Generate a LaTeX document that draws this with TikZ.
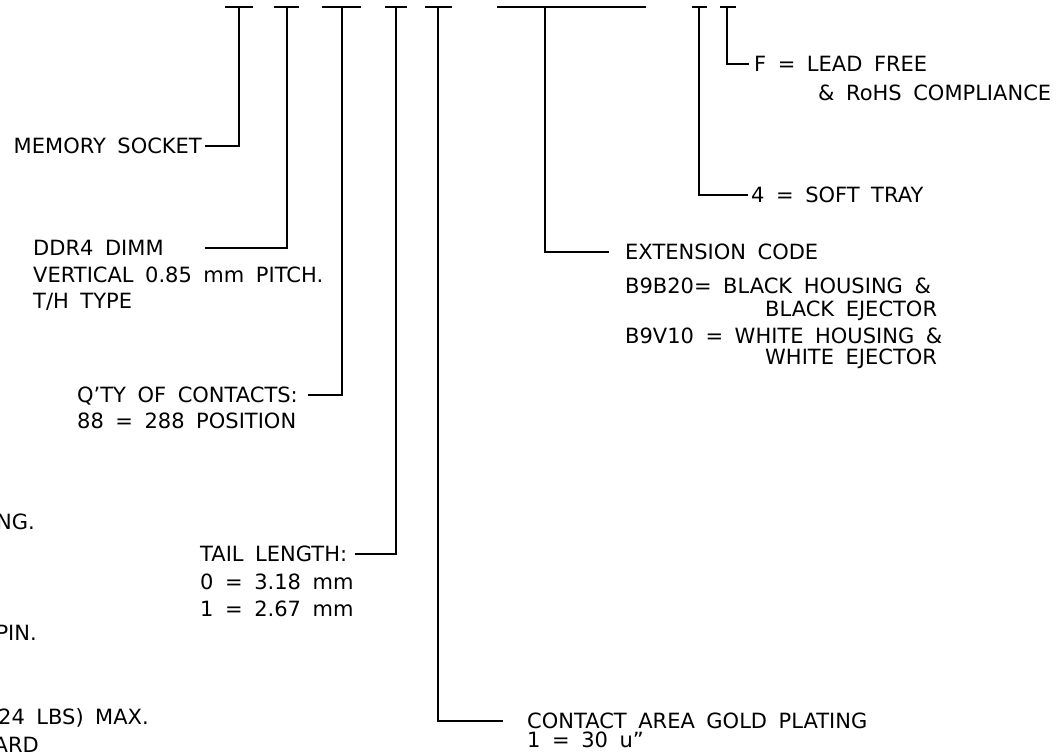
\documentclass[tikz,border=0pt]{standalone}
\usepackage{fontspec}
\setmainfont{DejaVu Sans}
\newcommand\lblfont{\fontsize{21}{25}\selectfont\spaceskip=0.55em\relax}
\begin{document}
\begin{tikzpicture}[x=1pt,y=-1pt,
  ln/.style={line width=1.7pt, line cap=butt},
  lbl/.style={font=\lblfont, inner sep=0pt, text height=15.3pt, text depth=0pt}]
\fill[white] (0,0) rectangle (1056,755);
\useasboundingbox (0,0) rectangle (1056,755);

% top tick coordinates
\coordinate (t1) at (239,7);
\coordinate (t2) at (287,7);
\coordinate (t3) at (342,7);
\coordinate (t4) at (396,7);
\coordinate (t5) at (438,7);
\coordinate (t6) at (545,7);
\coordinate (t7) at (699,7);
\coordinate (t8) at (727,7);

% top bars
\draw[ln] ([xshift=-14pt]t1) -- ([xshift=14pt]t1);
\draw[ln] ([xshift=-13pt]t2) -- ([xshift=12pt]t2);
\draw[ln] ([xshift=-20pt]t3) -- ([xshift=19pt]t3);
\draw[ln] ([xshift=-11pt]t4) -- ([xshift=11pt]t4);
\draw[ln] ([xshift=-13pt]t5) -- ([xshift=14pt]t5);
\draw[ln] ([xshift=-48pt]t6) -- ([xshift=101pt]t6);
\draw[ln] ([xshift=-7pt]t7) -- ([xshift=8pt]t7);
\draw[ln] ([xshift=-7pt]t8) -- ([xshift=9pt]t8);

% connector free ends
\coordinate (c1) at (205,146);
\coordinate (c2) at (205,248);
\coordinate (c3) at (308,395);
\coordinate (c4) at (355,554);
\coordinate (c5) at (503,721);
\coordinate (c6) at (609,252);
\coordinate (c7) at (748,195);
\coordinate (c8) at (749,64);

\draw[ln] (t1) |- (c1);
\draw[ln] (t2) |- (c2);
\draw[ln] (t3) |- (c3);
\draw[ln] (t4) |- (c4);
\draw[ln] (t5) |- (c5);
\draw[ln] (t6) |- (c6);
\draw[ln] (t7) |- (c7);
\draw[ln] (t8) |- (c8);

% left labels
\node[lbl, anchor=east] (memsock) at (202,146) {MEMORY SOCKET};

\node[lbl, anchor=west] (ddr1) at (33,248) {DDR4 DIMM};
\node[lbl, anchor=west] (ddr2) at (33,275) {VERTICAL 0.85 mm PITCH.};
\node[lbl, anchor=west] (ddr3) at (33,301) {T/H TYPE};

\node[lbl, anchor=west] (qty1) at (77,395) {Q'TY OF CONTACTS:};
\node[lbl, anchor=west] (qty2) at (77,421) {88 = 288 POSITION};

\node[lbl, anchor=west] (tail1) at (200,554) {TAIL LENGTH:};
\node[lbl, anchor=west] (tail2) at (200,582) {0 = 3.18 mm};
\node[lbl, anchor=west] (tail3) at (200,609) {1 = 2.67 mm};

% cut-off texts at the left edge
\node[lbl, anchor=east] (cutA) at (35,522) {NG.};
\node[lbl, anchor=east] (cutB) at (37,633) {PIN.};
\node[lbl, anchor=east] (cutC) at (149,717) {24 LBS) MAX.};
\node[lbl, anchor=east] (cutD) at (39,745) {ARD};

% bottom label
\node[lbl, anchor=west] (gold1) at (527,721) {CONTACT AREA GOLD PLATING};
\node[lbl, anchor=west] (gold2) at (527,740) {1 = 30 u”};

% right labels
\node[lbl, anchor=west] (ext0) at (625,252) {EXTENSION CODE};
\node[lbl, anchor=west] (ext1) at (625,286) {B9B20= BLACK HOUSING \&};
\node[lbl, anchor=west] (ext2) at (765,309) {BLACK EJECTOR};
\node[lbl, anchor=west] (ext3) at (625,336) {B9V10 = WHITE HOUSING \&};
\node[lbl, anchor=west] (ext4) at (765,357) {WHITE EJECTOR};

\node[lbl, anchor=west] (tray) at (751,195) {4 = SOFT TRAY};
\node[lbl, anchor=west] (lf1) at (754,64) {F = LEAD FREE};
\node[lbl, anchor=west] (lf2) at (818,93) {\& RoHS COMPLIANCE};
\end{tikzpicture}
\end{document}
